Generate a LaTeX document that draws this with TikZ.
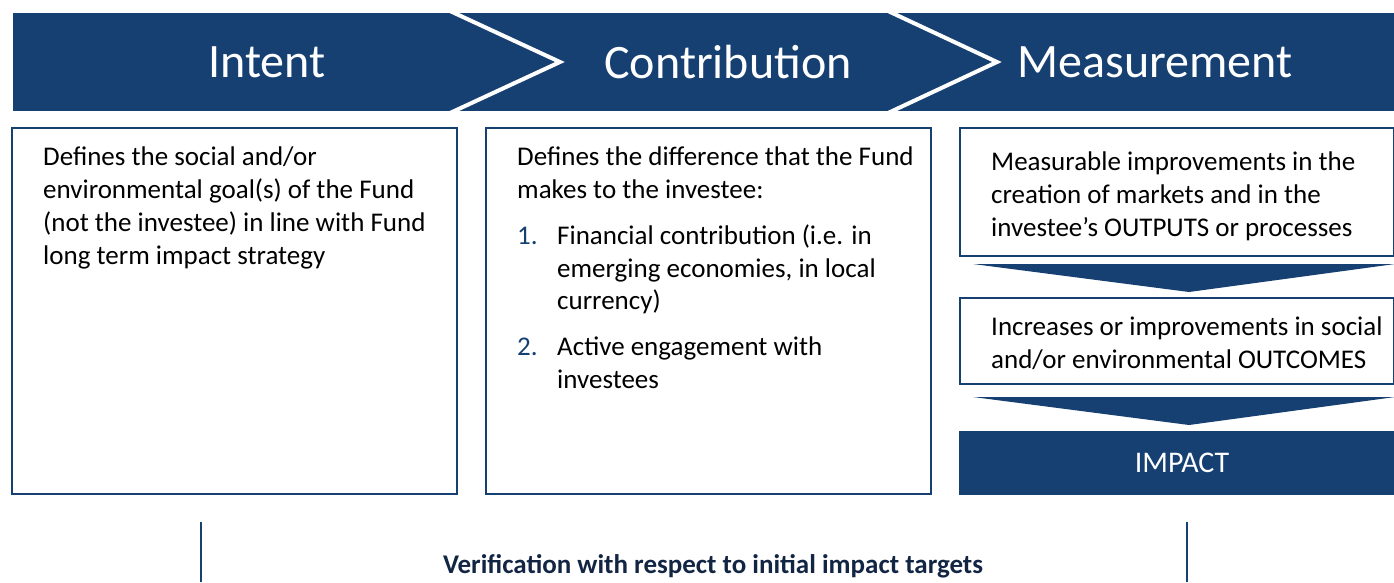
\documentclass[tikz,border=0pt]{standalone}
\usepackage{fontspec}
\setmainfont{Carlito}
\usetikzlibrary{positioning}
\definecolor{fblue}{RGB}{23,64,114}
\definecolor{fnavy}{RGB}{18,38,68}

\tikzset{
  head/.style={text=white, font=\fontsize{48}{58}\selectfont, inner sep=0pt},
  box/.style={draw=fblue, line width=2pt, fill=white, anchor=north west, inner sep=0pt},
  txt/.style={anchor=north west, align=left, inner sep=0pt, font=\fontsize{27}{32.7}\selectfont},
  arrowfill/.style={fill=fblue},
}
\newcommand{\itemnum}[1]{\makebox[40pt][l]{\color{fblue}#1}}

\begin{document}
\begin{tikzpicture}[x=1pt, y=-1pt]
    \useasboundingbox (0,0) rectangle (1394,582);

    % banner with the three steps
    \fill [fblue] (13,13) rectangle (1394,111);
    \draw [white, line width=4pt] (450,11) -- (560,62) -- (450,113);
    \draw [white, line width=4pt] (888,11) -- (997,62) -- (888,113);
    \node [head] (intent) at (267,62) {Intent};
    \node [head] (contrib) at (728,62) {Contribution};
    \node [head] (measure) at (1155,62) {Measurement};

    % boxes
    \node [box, minimum width=445pt, minimum height=366pt] (intentbox) at (11,127) {};
    \node [box, minimum width=445pt, minimum height=366pt] (contribbox) at (485,127) {};
    \node [box, minimum width=434pt, minimum height=128pt] (outputs) at (959,127) {};
    \node [box, minimum width=434pt, minimum height=86pt] (outcomes) at (959,297) {};
    \node [box, fill=fblue, minimum width=434pt, minimum height=62pt] (impact) at (959,431) {};
    \node [text=white, font=\fontsize{30}{36}\selectfont] (impacttxt) at ([xshift=5pt]impact.center) {IMPACT};

    \node [txt] (intenttxt) at ([xshift=32pt, yshift=-20pt]intentbox.north west)
      {Defines the social and/or\\
       environmental goal(s) of the Fund\\
       (not the investee) in line with Fund\\
       long term impact strategy};

    \node [txt] (contribtxt) at ([xshift=32pt, yshift=-20pt]contribbox.north west)
      {Defines the difference that the Fund\\
       makes to the investee:\\[13pt]
       \itemnum{1.}Financial contribution (i.e. in\\
       \hspace*{40pt}emerging economies, in local\\
       \hspace*{40pt}currency)\\[13pt]
       \itemnum{2.}Active engagement with\\
       \hspace*{40pt}investees};

    \node [txt] (outputstxt) at ([xshift=32pt, yshift=-25pt]outputs.north west)
      {Measurable improvements in the\\
       creation of markets and in the\\
       investee's OUTPUTS or processes};

    \node [txt] (outcomestxt) at ([xshift=32pt, yshift=-20pt]outcomes.north west)
      {Increases or improvements in social\\
       and/or environmental OUTCOMES};

    % arrows between the measurement boxes
    \fill [arrowfill] ([xshift=14pt, yshift=-7pt]outputs.south west) -- ([yshift=-7pt]outputs.south east)
      -- ([xshift=12pt, yshift=5pt]outcomes.north) -- cycle;
    \fill [arrowfill] ([xshift=14pt, yshift=-12pt]outcomes.south west) -- ([yshift=-12pt]outcomes.south east)
      -- ([xshift=12pt, yshift=6pt]impact.north) -- cycle;

    % verification
    \coordinate (vleft) at (201,522);
    \coordinate (vright) at (1187,522);
    \draw [fblue, line width=1.5pt] (vleft) -- ++(0,60);
    \draw [fblue, line width=1.5pt] (vright) -- ++(0,60);
    \node [text=fnavy, font=\fontsize{27}{32}\selectfont\bfseries] (verif) at (713,566)
      {Verification with respect to initial impact targets};
\end{tikzpicture}
\end{document}
